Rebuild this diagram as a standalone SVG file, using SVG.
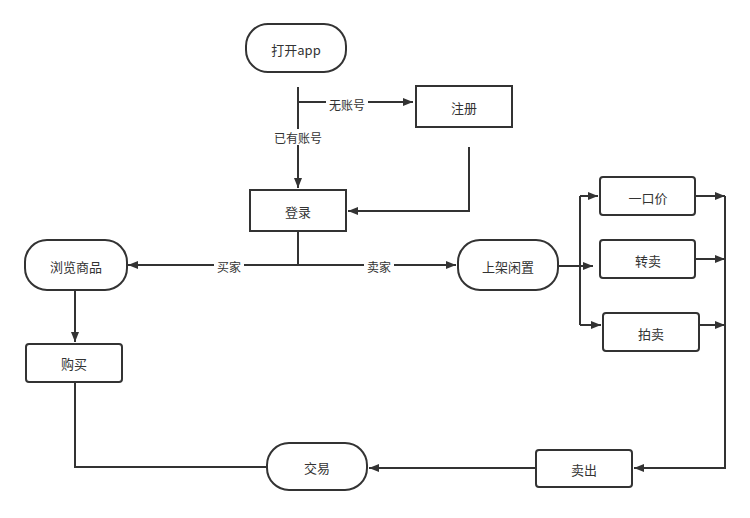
<svg xmlns="http://www.w3.org/2000/svg" width="750" height="518" viewBox="0 0 750 518">
<style>
.n{fill:#fff;stroke:#333;stroke-width:2}
.t{font-family:"Noto Sans CJK SC","Liberation Sans",sans-serif;font-size:13px;fill:#333;text-anchor:middle;dominant-baseline:central}
.c{fill:none;stroke:#333;stroke-width:2}
.l{font-family:"Noto Sans CJK SC",sans-serif;font-size:12px;fill:#333;text-anchor:middle;dominant-baseline:central}
</style>
<defs><marker id="a" markerWidth="10" markerHeight="8" refX="10" refY="4" orient="auto" markerUnits="userSpaceOnUse"><path d="M0,0L10,4L0,8z" fill="#333"/></marker></defs>
<rect width="750" height="518" fill="#fff"/>
<g id="connectors">
<path class="c" d="M298,87V188" marker-end="url(#a)"/>
<path class="c" d="M298,102H413" marker-end="url(#a)"/>
<path class="c" d="M469,147V211H348" marker-end="url(#a)"/>
<path class="c" d="M298,231V265H128" marker-end="url(#a)"/>
<path class="c" d="M298,265H456" marker-end="url(#a)"/>
<path class="c" d="M75,290V342" marker-end="url(#a)"/>
<path class="c" d="M75,382V467H267"/>
<path class="c" d="M536,468H369" marker-end="url(#a)"/>
<path class="c" d="M558,266H580"/>
<path class="c" d="M580,196V325"/>
<path class="c" d="M580,196H598" marker-end="url(#a)"/>
<path class="c" d="M580,266H593" marker-end="url(#a)"/>
<path class="c" d="M580,325H601" marker-end="url(#a)"/>
<path class="c" d="M695,196H725" marker-end="url(#a)"/>
<path class="c" d="M695,259H725" marker-end="url(#a)"/>
<path class="c" d="M699,325H725" marker-end="url(#a)"/>
<path class="c" d="M725,196V468H634" marker-end="url(#a)"/>
<rect x="326" y="96" width="42" height="16" fill="#fff"/><text class="l" x="347" y="104">无账号</text>
<rect x="270" y="129" width="56" height="16" fill="#fff"/><text class="l" x="298" y="137">已有账号</text>
<rect x="214" y="258" width="30" height="16" fill="#fff"/><text class="l" x="229" y="266">买家</text>
<rect x="364" y="258" width="30" height="16" fill="#fff"/><text class="l" x="379" y="266">卖家</text>
</g>
<g id="open"><rect class="n" x="246" y="24" width="100" height="48" rx="22"/><text class="t" x="296" y="49">打开app</text></g>
<g id="reg"><rect class="n" x="416" y="86" width="96" height="41"/><text class="t" x="464" y="107">注册</text></g>
<g id="login"><rect class="n" x="250" y="190" width="96" height="41"/><text class="t" x="298" y="211">登录</text></g>
<g id="browse"><rect class="n" x="25" y="240" width="102" height="50" rx="22"/><text class="t" x="76" y="266">浏览商品</text></g>
<g id="list"><rect class="n" x="458" y="240" width="100" height="50" rx="22"/><text class="t" x="508" y="266">上架闲置</text></g>
<g id="buy"><rect class="n" x="26" y="344" width="96" height="38" rx="3"/><text class="t" x="74" y="363">购买</text></g>
<g id="trade"><rect class="n" x="267" y="443" width="100" height="47" rx="22"/><text class="t" x="317" y="467">交易</text></g>
<g id="sold"><rect class="n" x="536" y="450" width="96" height="37" rx="3"/><text class="t" x="584" y="469">卖出</text></g>
<g id="fixed"><rect class="n" x="600" y="177" width="95" height="38" rx="3"/><text class="t" x="648" y="197">一口价</text></g>
<g id="resell"><rect class="n" x="600" y="240" width="95" height="38" rx="3"/><text class="t" x="648" y="260">转卖</text></g>
<g id="auction"><rect class="n" x="603" y="313" width="96" height="38" rx="3"/><text class="t" x="651" y="333">拍卖</text></g>
</svg>
